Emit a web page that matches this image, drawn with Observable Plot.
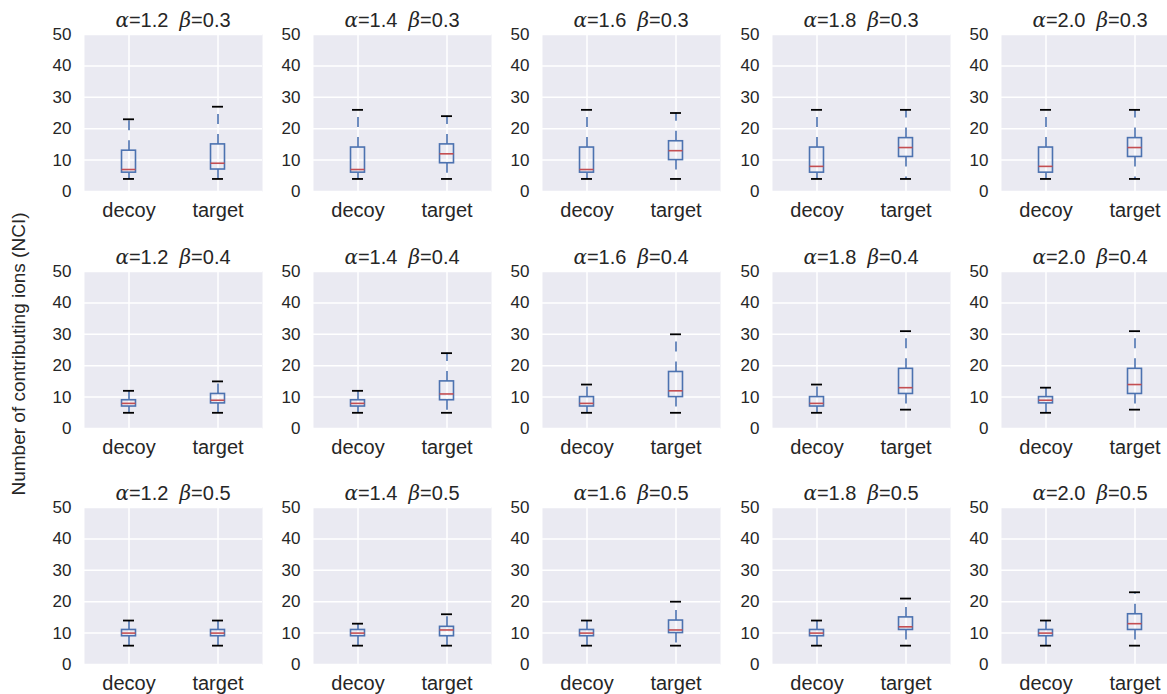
<!DOCTYPE html>
<html>
<head>
<meta charset="utf-8">
<script src="https://cdn.jsdelivr.net/npm/d3@7"></script>
<script src="https://cdn.jsdelivr.net/npm/@observablehq/plot@0.6"></script>
<style>
  html, body { margin: 0; padding: 0; background: #fff; }
  #fig { position: relative; width: 1167px; height: 694px; overflow: hidden; background: #fff;
         font-family: "Liberation Sans", Arial, sans-serif; color: #262626; }
  .panel { position: absolute; }
  .panel svg { overflow: visible; background: transparent; }
  .title { position: absolute; text-align: center; font-size: 20px; line-height: 1; white-space: pre; }
  .title i { font-family: "DejaVu Serif", serif; font-style: italic; }
  .ylabel { position: absolute; font-size: 19px; line-height: 1; white-space: nowrap; transform: translate(-50%, -50%) rotate(-90deg); }
</style>
</head>
<body>
<div id="fig"></div>
<script>
// Facet values
const alphas = ["1.2", "1.4", "1.6", "1.8", "2.0"];
const betas = ["0.3", "0.4", "0.5"];
const groups = ["decoy", "target"];
const yTicks = [0, 10, 20, 30, 40, 50];

// Box statistics of NCI; rows are β = 0.3, 0.4, 0.5 and columns are α = 1.2 … 2.0
const decoyLow   = [[4, 4, 4, 4, 4], [5, 5, 5, 5, 5], [6, 6, 6, 6, 6]];
const decoyQ1    = [[6, 6, 6, 6, 6], [7, 7, 7, 7, 8], [9, 9, 9, 9, 9]];
const decoyMed   = [[7, 7, 7, 8, 8], [8, 8, 8, 8, 9], [10, 10, 10, 10, 10]];
const decoyQ3    = [[13, 14, 14, 14, 14], [9, 9, 10, 10, 10], [11, 11, 11, 11, 11]];
const decoyHigh  = [[23, 26, 26, 26, 26], [12, 12, 14, 14, 13], [14, 13, 14, 14, 14]];

const targetLow  = [[4, 4, 4, 4, 4], [5, 5, 5, 6, 6], [6, 6, 6, 6, 6]];
const targetQ1   = [[7, 9, 10, 11, 11], [8, 9, 10, 11, 11], [9, 9, 10, 11, 11]];
const targetMed  = [[9, 12, 13, 14, 14], [9, 11, 12, 13, 14], [10, 11, 11, 12, 13]];
const targetQ3   = [[15, 15, 16, 17, 17], [11, 15, 18, 19, 19], [11, 12, 14, 15, 16]];
const targetHigh = [[27, 24, 25, 26, 26], [15, 24, 30, 31, 31], [14, 16, 20, 21, 23]];

// Layout of the grid of panels
const plotW = 178, plotH = 157;
const colLeft = [84, 313, 542, 772, 1001];
const rowTop = [34, 271, 507];
const mL = 50, mR = 4, mT = 4, mB = 44;

const blue = "#4C72B0", red = "#C44E52", bg = "#EAEAF2";

const fig = document.getElementById("fig");

betas.forEach((beta, r) => {
  alphas.forEach((alpha, c) => {
    const stats = [
      {group: "decoy", low: decoyLow[r][c], q1: decoyQ1[r][c], med: decoyMed[r][c], q3: decoyQ3[r][c], high: decoyHigh[r][c]},
      {group: "target", low: targetLow[r][c], q1: targetQ1[r][c], med: targetMed[r][c], q3: targetQ3[r][c], high: targetHigh[r][c]}
    ];

    const chart = Plot.plot({
      width: mL + plotW + mR,
      height: mT + plotH + mB,
      marginLeft: mL, marginRight: mR, marginTop: mT, marginBottom: mB,
      style: {fontFamily: "'Liberation Sans', Arial, sans-serif", color: "#262626", background: "transparent", overflow: "visible"},
      x: {type: "band", domain: groups, paddingInner: 0.843, paddingOuter: 0.4215, round: false, label: null},
      y: {domain: [0, 50], label: null},
      marks: [
        Plot.frame({fill: bg, stroke: "none"}),
        Plot.gridY(yTicks, {stroke: "white", strokeOpacity: 1, strokeWidth: 1.5}),
        Plot.gridX({stroke: "white", strokeOpacity: 1, strokeWidth: 1.5}),
        Plot.axisY(yTicks, {tickSize: 0, tickPadding: 13, fontSize: 17, label: null}),
        Plot.axisX({tickSize: 0, tickPadding: 11, fontSize: 20, label: null}),
        // whiskers run from the box edge out to the caps
        Plot.ruleX(stats, {x: "group", y1: "q3", y2: "high", stroke: blue, strokeWidth: 1.6, strokeDasharray: "10,10"}),
        Plot.ruleX(stats, {x: "group", y1: "q1", y2: "low", stroke: blue, strokeWidth: 1.6, strokeDasharray: "10,10"}),
        Plot.barY(stats, {x: "group", y1: "q1", y2: "q3", fill: "none", stroke: blue, strokeWidth: 1.6}),
        Plot.tickY(stats, {x: "group", y: "med", stroke: red, strokeWidth: 1.6}),
        Plot.tickY(stats, {x: "group", y: "high", stroke: "black", strokeWidth: 1.8, insetLeft: 1.5, insetRight: 1.5}),
        Plot.tickY(stats, {x: "group", y: "low", stroke: "black", strokeWidth: 1.8, insetLeft: 1.5, insetRight: 1.5})
      ]
    });

    const holder = document.createElement("div");
    holder.className = "panel";
    holder.style.left = (colLeft[c] - mL) + "px";
    holder.style.top = (rowTop[r] - mT) + "px";
    holder.style.width = (mL + plotW + mR) + "px";
    holder.appendChild(chart);
    fig.appendChild(holder);

    const title = document.createElement("div");
    title.className = "title";
    title.style.left = colLeft[c] + "px";
    title.style.width = plotW + "px";
    title.style.top = (rowTop[r] - 24) + "px";
    title.innerHTML = `<i>α</i>=${alpha}  <i>β</i>=${beta}`;
    fig.appendChild(title);
  });
});

const ylab = document.createElement("div");
ylab.className = "ylabel";
ylab.style.left = "18px";
ylab.style.top = "354px";
ylab.textContent = "Number of contributing ions (NCI)";
fig.appendChild(ylab);
</script>
</body>
</html>
